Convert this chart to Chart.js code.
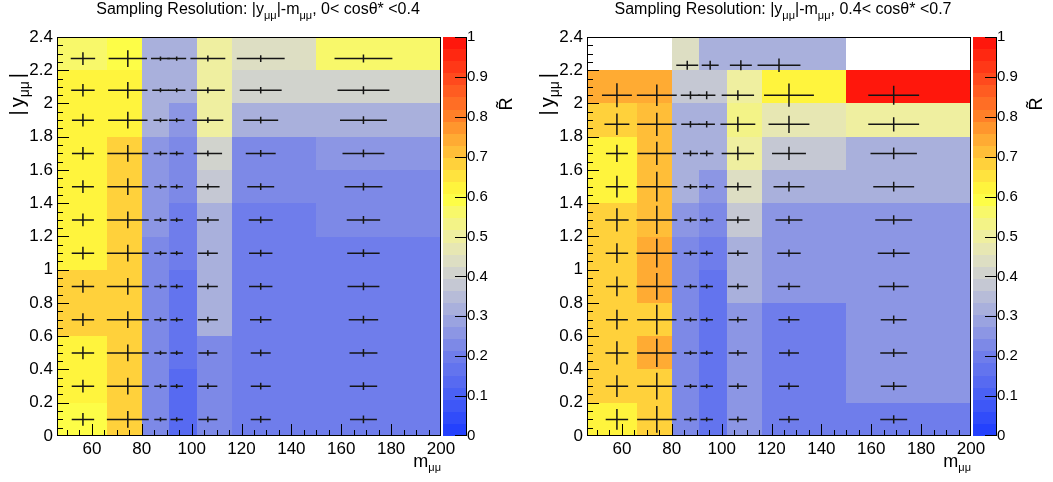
<!DOCTYPE html>
<html>
<head>
<meta charset="utf-8">
<script src="https://cdn.jsdelivr.net/npm/chart.js@4.4.1/dist/chart.umd.min.js"></script>
<style>
  body { margin: 0; background: #fff; }
  canvas { position: absolute; top: 0; }
  #left { left: 0; }
  #right { left: 530px; }
</style>
</head>
<body>
<canvas id="left" width="530" height="482"></canvas>
<canvas id="right" width="523" height="482"></canvas>
<script>
// ── Binning / ticks ──
const xEdges = [46, 66, 80, 91, 102, 116, 150, 200];
const yEdges = [0, 0.2, 0.4, 0.6, 0.8, 1.0, 1.2, 1.4, 1.6, 1.8, 2.0, 2.2, 2.4];
const xTicks = [60, 80, 100, 120, 140, 160, 180, 200];
const yTicks = [0, 0.2, 0.4, 0.6, 0.8, 1, 1.2, 1.4, 1.6, 1.8, 2, 2.2, 2.4];
const zTicks = [0, 0.1, 0.2, 0.3, 0.4, 0.5, 0.6, 0.7, 0.8, 0.9, 1];

// ── Left panel: 0 < cos < 0.4 (rows from |y| = 0 upwards) ──
const leftZ = [
  [0.60, 0.67, 0.24, 0.13, 0.24, 0.20, 0.21],
  [0.62, 0.67, 0.24, 0.13, 0.24, 0.20, 0.21],
  [0.62, 0.67, 0.24, 0.17, 0.24, 0.20, 0.21],
  [0.67, 0.67, 0.24, 0.17, 0.32, 0.20, 0.21],
  [0.67, 0.67, 0.24, 0.17, 0.32, 0.20, 0.21],
  [0.62, 0.67, 0.24, 0.20, 0.32, 0.20, 0.21],
  [0.62, 0.67, 0.26, 0.20, 0.33, 0.20, 0.24],
  [0.62, 0.67, 0.26, 0.24, 0.39, 0.23, 0.24],
  [0.62, 0.67, 0.26, 0.24, 0.40, 0.24, 0.25],
  [0.62, 0.63, 0.32, 0.25, 0.50, 0.32, 0.33],
  [0.62, 0.62, 0.32, 0.32, 0.50, 0.40, 0.40],
  [0.55, 0.60, 0.33, 0.33, 0.50, 0.44, 0.55],
];
const leftXMean = [56.4, 74.4, 87.5, 94, 106.5, 127.7, 168.9];
const leftYMean = [0.1, 0.3, 0.5, 0.7, 0.9, 1.1, 1.3, 1.5, 1.7, 1.9, 2.08, 2.27];
const leftXErr = [
  [4.5, 8.4, 2.5, 2.5, 3.8, 4.0, 5.4],
  [4.5, 8.4, 2.5, 2.5, 3.8, 4.0, 5.5],
  [4.5, 8.4, 2.5, 2.5, 3.8, 4.0, 5.6],
  [4.5, 8.4, 2.5, 2.5, 4.0, 4.3, 5.9],
  [4.5, 8.4, 2.5, 2.5, 4.0, 4.7, 6.4],
  [4.5, 8.4, 2.5, 2.5, 4.0, 4.7, 6.5],
  [4.4, 8.4, 2.5, 2.5, 4.4, 4.8, 6.7],
  [4.4, 8.2, 2.5, 2.5, 4.7, 5.4, 7.6],
  [4.4, 8.2, 2.7, 2.8, 5.7, 6.0, 8.4],
  [4.4, 7.9, 2.8, 3.1, 6.2, 7.0, 9.4],
  [4.7, 7.9, 3.3, 3.5, 6.8, 8.4, 10.4],
  [4.9, 7.7, 3.8, 3.8, 7.0, 9.6, 11.6],
];
const leftYErr = [0.038, 0.05, 0.013, 0.013, 0.018, 0.02, 0.024];

// ── Right panel: 0.4 < cos < 0.7 ──
const rightZ = [
  [0.62, 0.68, 0.24, 0.18, 0.26, 0.21, 0.21],
  [0.67, 0.68, 0.24, 0.18, 0.26, 0.21, 0.25],
  [0.69, 0.75, 0.24, 0.18, 0.26, 0.21, 0.25],
  [0.67, 0.68, 0.24, 0.18, 0.26, 0.21, 0.25],
  [0.67, 0.75, 0.24, 0.18, 0.31, 0.25, 0.25],
  [0.67, 0.75, 0.24, 0.20, 0.33, 0.25, 0.25],
  [0.67, 0.71, 0.27, 0.24, 0.37, 0.25, 0.26],
  [0.62, 0.71, 0.31, 0.26, 0.43, 0.32, 0.31],
  [0.62, 0.71, 0.32, 0.32, 0.49, 0.37, 0.32],
  [0.67, 0.71, 0.32, 0.32, 0.54, 0.48, 0.50],
  [0.75, 0.74, 0.37, 0.37, 0.50, 0.61, 0.98],
  [null, null, 0.43, 0.32, 0.32, 0.32, null],
];
const rightXMean = [58, 74, 87.5, 94, 106.5, 127, 169];
const rightTopRowX = [null, null, 86.2, 95.4, 107.7, 123, null];
const rightYMean = [0.1, 0.3, 0.5, 0.7, 0.9, 1.1, 1.3, 1.5, 1.7, 1.875, 2.05, 2.23];
const rightXErr = [
  [4.5, 7.9, 2.6, 2.5, 3.7, 4.0, 5.4],
  [4.5, 7.9, 2.6, 2.5, 3.7, 4.0, 5.2],
  [4.6, 7.9, 2.6, 2.5, 3.7, 4.0, 5.4],
  [4.4, 7.9, 2.6, 2.5, 3.7, 4.2, 5.2],
  [4.4, 8.2, 2.6, 2.5, 4.0, 4.5, 6.0],
  [4.5, 8.2, 2.7, 2.5, 4.0, 4.7, 6.4],
  [4.7, 8.2, 2.5, 2.7, 4.7, 5.4, 7.4],
  [4.5, 8.2, 2.7, 3.0, 5.4, 6.2, 8.2],
  [4.4, 7.7, 3.0, 2.7, 6.5, 6.8, 9.3],
  [5.0, 7.9, 3.7, 3.3, 7.0, 8.2, 10.2],
  [6.0, 8.0, 3.9, 3.5, 6.5, 10.0, 10.2],
  [null, null, 4.4, 3.4, 4.4, 8.6, null],
];
const rightYErr = [
  [0.063, 0.08, 0.013, 0.013, 0.018, 0.02, 0.025],
  [0.065, 0.08, 0.013, 0.013, 0.018, 0.02, 0.025],
  [0.07, 0.085, 0.013, 0.013, 0.018, 0.02, 0.025],
  [0.06, 0.09, 0.013, 0.013, 0.018, 0.02, 0.025],
  [0.06, 0.08, 0.013, 0.013, 0.018, 0.022, 0.025],
  [0.06, 0.086, 0.014, 0.014, 0.018, 0.022, 0.025],
  [0.07, 0.085, 0.015, 0.015, 0.02, 0.025, 0.028],
  [0.065, 0.09, 0.015, 0.015, 0.025, 0.03, 0.03],
  [0.052, 0.07, 0.018, 0.018, 0.042, 0.04, 0.036],
  [0.065, 0.07, 0.02, 0.02, 0.045, 0.052, 0.043],
  [0.072, 0.065, 0.024, 0.024, 0.03, 0.07, 0.057],
  [null, null, 0.027, 0.027, 0.03, 0.04, null],
];

// ── Palette (blue -> grey -> yellow -> red), discrete contours ──
const NCONT = 33;
const paletteStops = [
  [0.00, 30, 60, 255], [0.10, 72, 95, 245], [0.20, 112, 126, 235],
  [0.30, 160, 168, 222], [0.35, 184, 189, 216], [0.40, 206, 208, 208],
  [0.45, 225, 226, 192], [0.50, 239, 239, 160], [0.55, 246, 246, 118],
  [0.60, 255, 255, 60], [0.65, 255, 228, 62], [0.70, 255, 198, 58],
  [0.75, 255, 166, 50], [0.80, 255, 130, 40], [0.85, 255, 100, 35],
  [0.90, 255, 70, 28], [0.95, 255, 42, 18], [1.00, 255, 15, 10],
];
function paletteAt(t) {
  for (let i = 1; i < paletteStops.length; i++) {
    const a = paletteStops[i - 1], b = paletteStops[i];
    if (t <= b[0]) {
      const f = (t - a[0]) / (b[0] - a[0]);
      const c = [1, 2, 3].map(k => Math.round(a[k] + (b[k] - a[k]) * f));
      return `rgb(${c[0]},${c[1]},${c[2]})`;
    }
  }
  return 'rgb(255,15,10)';
}
function colorFor(v) {
  const k = Math.min(NCONT - 1, Math.max(0, Math.floor(v * NCONT)));
  return paletteAt((k + 0.5) / NCONT);
}

const FONT = '"Liberation Sans", Arial, Helvetica, sans-serif';
const fmt = v => String(+Number(v).toFixed(1));

function drawRuns(ctx, runs, x, y, align) {
  let w = 0;
  runs.forEach(r => {
    ctx.font = `${r.size}px ${FONT}`;
    r.w = ctx.measureText(r.t).width;
    w += r.w + (r.gap || 0);
  });
  let cx = align === 'center' ? x - w / 2 : align === 'right' ? x - w : x;
  ctx.textAlign = 'left';
  ctx.textBaseline = 'alphabetic';
  runs.forEach(r => {
    ctx.font = `${r.size}px ${FONT}`;
    ctx.fillText(r.t, cx, y + (r.dy || 0));
    cx += r.w + (r.gap || 0);
  });
}

// ── Histogram plugin: cells, error crosses, frame, inner ticks, colour bar ──
function histPlugin(p) {
  return {
    id: 'hist2d',
    beforeDatasetsDraw(chart) {
      const { ctx, scales: { x, y } } = chart;
      ctx.save();
      p.z.forEach((row, r) => row.forEach((v, c) => {
        if (v === null) return;
        const x0 = Math.round(x.getPixelForValue(xEdges[c]));
        const x1 = Math.round(x.getPixelForValue(xEdges[c + 1]));
        const y0 = Math.round(y.getPixelForValue(yEdges[r]));
        const y1 = Math.round(y.getPixelForValue(yEdges[r + 1]));
        ctx.fillStyle = colorFor(v);
        ctx.fillRect(x0, y1, x1 - x0, y0 - y1);
      }));
      ctx.restore();
    },
    afterDraw(chart) {
      const { ctx, chartArea: a, scales: { x, y, z } } = chart;
      ctx.save();
      ctx.setLineDash([]);
      ctx.globalAlpha = 1;
      // error crosses
      ctx.strokeStyle = '#151515';
      ctx.lineWidth = 1.5;
      p.z.forEach((row, r) => row.forEach((v, c) => {
        if (v === null) return;
        const mx = p.crossX(r, c), my = p.yMean[r];
        const ex = p.xErr[r][c], ey = p.yErr(r, c);
        const px = x.getPixelForValue(mx), py = y.getPixelForValue(my);
        ctx.beginPath();
        ctx.moveTo(x.getPixelForValue(mx - ex), py);
        ctx.lineTo(x.getPixelForValue(mx + ex), py);
        ctx.moveTo(px, y.getPixelForValue(my - ey));
        ctx.lineTo(px, y.getPixelForValue(my + ey));
        ctx.stroke();
      }));

      // frame and inner ticks (filled rects)
      const L = Math.round(a.left), R = Math.round(a.right);
      const T = Math.round(a.top), B = Math.round(a.bottom);
      ctx.fillStyle = '#000';
      ctx.fillRect(L, T, 1, B - T);
      ctx.fillRect(L, B - 1, R - L, 1);
      ctx.fillRect(L, T, R - L, 1);
      ctx.fillRect(R - 1, T, 1, B - T);
      for (let i = 0; i <= 48; i++) {
        const py = Math.round(y.getPixelForValue(i * 0.05));
        const len = i % 4 === 0 ? 12 : 6;
        ctx.fillRect(L, Math.min(py, B - 1), len, 1);
      }
      for (let v = 50; v <= 200; v += 5) {
        const px = Math.round(x.getPixelForValue(v));
        const len = v % 20 === 0 ? 12 : 6;
        ctx.fillRect(Math.min(px, R - 1), B - len, 1, len);
      }

      // colour bar
      const bl = R + 2, br = R + 25;
      for (let k = 0; k < NCONT; k++) {
        const y0 = Math.round(z.getPixelForValue(k / NCONT));
        const y1 = Math.round(z.getPixelForValue((k + 1) / NCONT));
        ctx.fillStyle = paletteAt((k + 0.5) / NCONT);
        ctx.fillRect(bl, y1, br - bl, y0 - y1);
      }
      ctx.fillStyle = '#000';
      ctx.fillRect(br, T, 1, B - T);
      zTicks.forEach(v => {
        const py = Math.min(Math.round(z.getPixelForValue(v)), B - 1);
        ctx.fillRect(br - 11, py, 11, 1);
      });

      // texts
      ctx.fillStyle = '#000';
      drawRuns(ctx, [
        { t: 'Sampling Resolution: |y', size: 16 },
        { t: 'μμ', size: 11, dy: 5 },
        { t: '|-m', size: 16 },
        { t: 'μμ', size: 11, dy: 5 },
        { t: p.titleTail, size: 16 },
      ], p.titleX, 14, 'center');

      drawRuns(ctx, [
        { t: 'm', size: 18 },
        { t: 'μμ', size: 11, dy: 3.5 },
      ], R, 467, 'right');

      ctx.save();
      ctx.translate(24, 73);
      ctx.rotate(-Math.PI / 2);
      drawRuns(ctx, [
        { t: '|', size: 20, gap: 3 },
        { t: 'y', size: 20 },
        { t: 'μμ', size: 14, dy: 5, gap: 3 },
        { t: '|', size: 20 },
      ], 0, 0, 'right');
      ctx.restore();

      ctx.save();
      ctx.translate(R + 71, 104);
      ctx.rotate(-Math.PI / 2);
      ctx.font = `18px ${FONT}`;
      ctx.textAlign = 'center';
      ctx.textBaseline = 'alphabetic';
      ctx.fillText('R\u0303', 0, 0);
      ctx.restore();

      ctx.restore();
    }
  };
}

function makePanel(id, p) {
  const canvas = document.getElementById(id);
  const W = canvas.width;
  const centres = [];
  p.z.forEach((row, r) => row.forEach((v, c) => {
    if (v !== null) centres.push({ x: p.crossX(r, c), y: p.yMean[r] });
  }));
  const tickFont = { family: FONT, size: 17 };
  const noGrid = { display: false, drawTicks: false, tickLength: 0 };
  return new Chart(canvas, {
    type: 'scatter',
    data: { datasets: [{ data: centres, pointRadius: 0, pointHoverRadius: 0 }] },
    options: {
      responsive: false,
      animation: false,
      events: [],
      layout: { padding: { left: 0, right: 0, top: 37, bottom: 0 } },
      plugins: { legend: { display: false }, tooltip: { enabled: false } },
      scales: {
        x: {
          type: 'linear', min: 46, max: 200,
          afterBuildTicks: s => { s.ticks = xTicks.map(v => ({ value: v })); },
          afterFit: s => { s.height = 46; },
          grid: noGrid, border: { display: false },
          ticks: { font: tickFont, color: '#000', padding: 3, maxRotation: 0, autoSkip: false }
        },
        y: {
          type: 'linear', min: 0, max: 2.4,
          afterBuildTicks: s => { s.ticks = yTicks.map(v => ({ value: v })); },
          afterFit: s => { s.width = 57; },
          grid: noGrid, border: { display: false },
          ticks: { font: tickFont, color: '#000', padding: 4, autoSkip: false, callback: fmt }
        },
        z: {
          type: 'linear', position: 'right', min: 0, max: 1,
          afterBuildTicks: s => { s.ticks = zTicks.map(v => ({ value: v })); },
          afterFit: s => { s.width = W - 441; },
          grid: noGrid, border: { display: false },
          ticks: { font: { family: FONT, size: 15 }, color: '#000', padding: 26, autoSkip: false, callback: fmt }
        }
      }
    },
    plugins: [histPlugin(p)]
  });
}

makePanel('left', {
  z: leftZ, yMean: leftYMean, xErr: leftXErr,
  crossX: (r, c) => leftXMean[c],
  yErr: (r, c) => leftYErr[c],
  titleTail: ', 0< cosθ* <0.4', titleX: 258
});
makePanel('right', {
  z: rightZ, yMean: rightYMean, xErr: rightXErr,
  crossX: (r, c) => (r === 11 && rightTopRowX[c] !== null) ? rightTopRowX[c] : rightXMean[c],
  yErr: (r, c) => rightYErr[r][c],
  titleTail: ', 0.4< cosθ* <0.7', titleX: 253
});
</script>
</body>
</html>
